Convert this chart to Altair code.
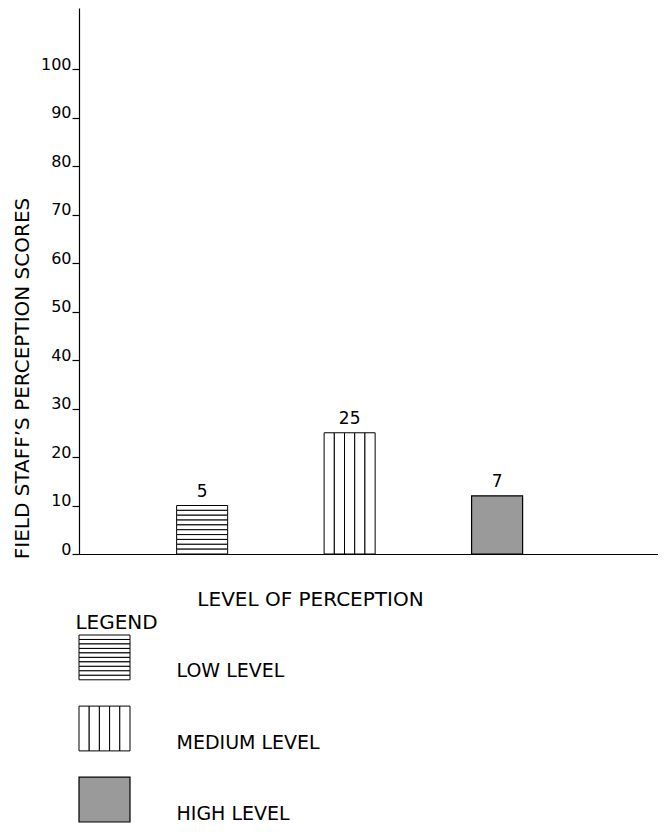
import altair as alt
import pandas as pd

FONT = "DejaVu Sans"

# ---- data ----
levels = ["Low", "Medium", "High"]
bar_heights = [10, 25, 12]          # bar tops measured on the score axis
bar_labels = ["5", "25", "7"]       # numbers written above the bars
legend_labels = ["LOW LEVEL", "MEDIUM LEVEL", "HIGH LEVEL"]
y_ticks = [0, 10, 20, 30, 40, 50, 60, 70, 80, 90, 100]
low_stripes = 10        # horizontal hatch lines in the "low" pattern
medium_columns = 5      # vertical strips in the "medium" pattern

# ---- tables built from the arrays ----
low_df = pd.DataFrame({"level": levels[0], "stripe": list(range(low_stripes)),
                       "seg": bar_heights[0] / low_stripes})
med_df = pd.DataFrame({"level": levels[1], "col": list(range(medium_columns)),
                       "value": bar_heights[1]})
high_df = pd.DataFrame({"level": [levels[2]], "value": [bar_heights[2]]})
text_df = pd.DataFrame({"level": levels, "value": bar_heights, "label": bar_labels})

x_enc = alt.X(
    "level:N", sort=levels,
    scale=alt.Scale(domain=levels, paddingInner=0.654, paddingOuter=0.79, align=0.419),
    axis=alt.Axis(labels=False, ticks=False, domain=True,
                  title="LEVEL OF PERCEPTION", titleX=231, titleY=45,
                  titleAlign="center", titleBaseline="middle",
                  titleFontSize=20, titleFontWeight="normal"),
)

y_axis = alt.Axis(values=y_ticks, title="FIELD STAFF\u2019S PERCEPTION SCORES",
                  titleAngle=270, titleX=-57, titleY=370, titleAlign="center",
                  titleBaseline="middle", titleFontSize=20, titleFontWeight="normal",
                  labelFontSize=16, labelBaseline="alphabetic", labelPadding=1,
                  tickSize=7)
y_scale = alt.Scale(domain=[0, 112.6], nice=False)

low = alt.Chart(low_df).mark_bar(fill="white", stroke="black", strokeWidth=1).encode(
    x=x_enc,
    y=alt.Y("seg:Q", stack="zero", scale=y_scale, axis=y_axis),
    detail="stripe:N",
)
med = alt.Chart(med_df).mark_bar(fill="white", stroke="black", strokeWidth=1).encode(
    x=x_enc,
    xOffset=alt.XOffset("col:N", scale=alt.Scale(paddingInner=0, paddingOuter=0)),
    y=alt.Y("value:Q", stack=None, scale=y_scale, axis=y_axis),
)
high = alt.Chart(high_df).mark_bar(fill="#9a9a9a", stroke="black", strokeWidth=1.2).encode(
    x=x_enc,
    y=alt.Y("value:Q", stack=None, scale=y_scale, axis=y_axis),
)
txt = alt.Chart(text_df).mark_text(baseline="bottom", dy=-5, fontSize=17, font=FONT,
                                    color="black").encode(
    x=x_enc,
    y=alt.Y("value:Q", stack=None, scale=y_scale, axis=y_axis),
    text="label:N",
)

main = alt.layer(low, med, high, txt).properties(width=579, height=546)

# ---- legend panel ----
leg_low = pd.DataFrame({"label": legend_labels[0], "stripe": list(range(low_stripes)), "w": 1.0})
leg_med = pd.DataFrame({"label": legend_labels[1], "col": list(range(medium_columns)),
                        "w": 1.0 / medium_columns})
leg_high = pd.DataFrame({"label": [legend_labels[2]], "w": [1.0]})

ly = alt.Y("label:N", sort=legend_labels,
           scale=alt.Scale(domain=legend_labels, paddingInner=0.37, paddingOuter=0),
           axis=alt.Axis(orient="right", domain=False, ticks=False, labelPadding=46,
                         labelFontSize=19, labelOffset=14, labelAlign="left",
                         labelBaseline="middle", title=None))
lx_scale = alt.Scale(domain=[0, 1], nice=False)

l1 = alt.Chart(leg_low).mark_bar(fill="white", stroke="black", strokeWidth=1).encode(
    x=alt.X("w:Q", stack=None, scale=lx_scale, axis=None),
    y=ly,
    yOffset=alt.YOffset("stripe:N", scale=alt.Scale(paddingInner=0, paddingOuter=0)),
)
l2 = alt.Chart(leg_med).mark_bar(fill="white", stroke="black", strokeWidth=1).encode(
    x=alt.X("w:Q", stack="zero", scale=lx_scale, axis=None),
    y=ly,
    detail="col:N",
)
l3 = alt.Chart(leg_high).mark_bar(fill="#9a9a9a", stroke="black", strokeWidth=1.2).encode(
    x=alt.X("w:Q", stack=None, scale=lx_scale, axis=None),
    y=ly,
)

legend = alt.layer(l1, l2, l3).properties(
    width=51, height=187,
    title=alt.Title("LEGEND", anchor="start", fontSize=20, fontWeight="normal",
                    dx=-3, offset=2),
)

chart = alt.vconcat(main, legend, spacing=3).properties(
    padding={"left": 4, "top": 0, "right": 0, "bottom": 0},
    background="white",
).configure_view(stroke=None).configure_axis(
    domainColor="black", tickColor="black", labelColor="black", titleColor="black",
    labelFont=FONT, titleFont=FONT, grid=False, domainWidth=1.2, tickWidth=1.2,
).configure_title(font=FONT, color="black")

chart.save("out.html", embed_options={"renderer": "svg", "actions": False})
